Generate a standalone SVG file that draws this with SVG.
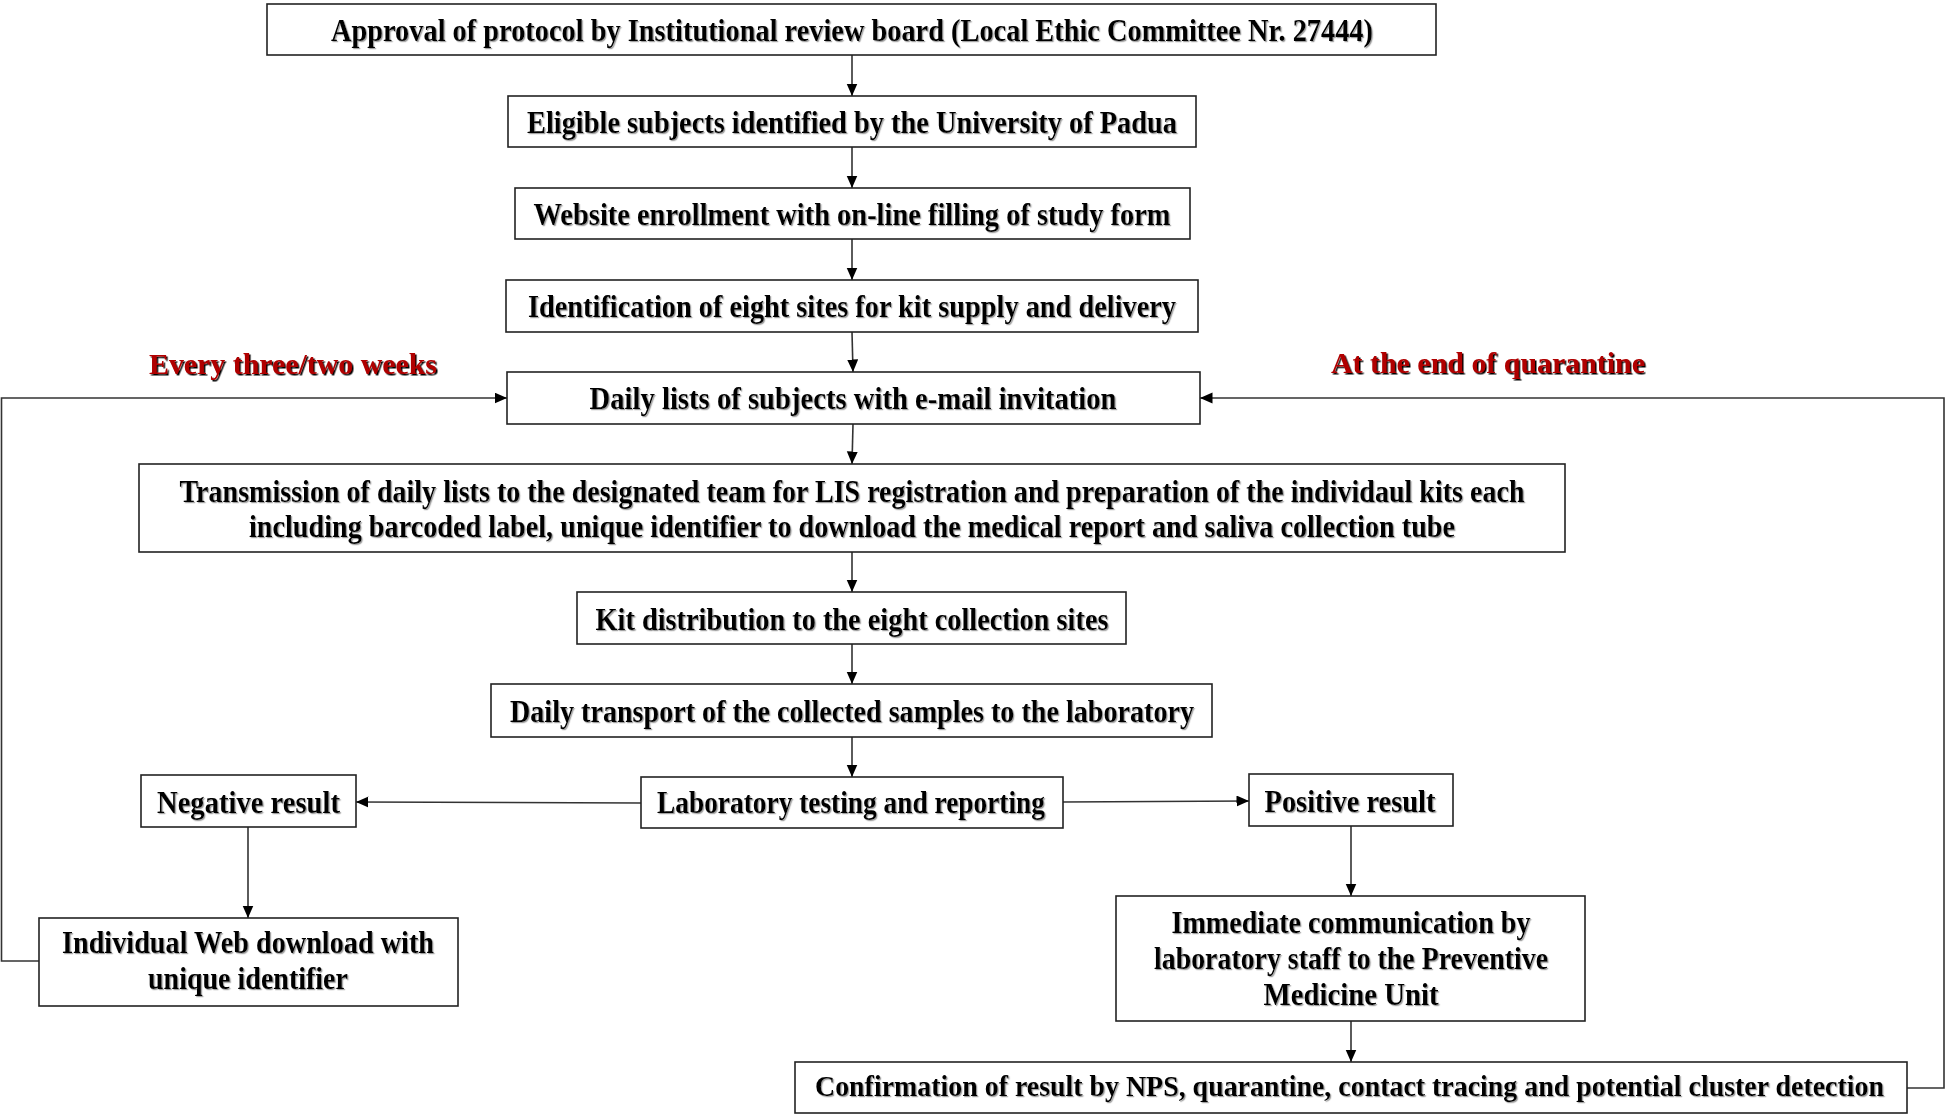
<svg xmlns="http://www.w3.org/2000/svg" width="1950" height="1116" viewBox="0 0 1950 1116">
<defs>
<style>
.box{fill:#fff;stroke:#222;stroke-width:1.6}
.t{font-family:"Liberation Serif","Times New Roman",serif;font-weight:bold;font-size:31px;fill:#000;text-anchor:middle;filter:url(#sh)}
.r{font-family:"Liberation Serif","Times New Roman",serif;font-weight:bold;font-size:30px;fill:#b00000;text-anchor:middle;filter:url(#shr)}
.c{fill:none;stroke:#333;stroke-width:1.6}
</style>
<filter id="sh" x="-2%" y="-5%" width="104%" height="112%">
<feDropShadow dx="1.2" dy="1.2" stdDeviation="0.4" flood-color="#888" flood-opacity="0.8"/>
</filter>
<filter id="shr" x="-2%" y="-5%" width="104%" height="112%">
<feDropShadow dx="1.5" dy="1.5" stdDeviation="0.3" flood-color="#000" flood-opacity="1"/>
</filter>
<marker id="ah" markerUnits="userSpaceOnUse" markerWidth="13" markerHeight="12" refX="12.5" refY="5.5" orient="auto">
<path d="M0,0 L12.5,5.5 L0,11 z" fill="#000"/>
</marker>
</defs>
<rect width="1950" height="1116" fill="#fff"/>

<g id="connectors">
<line class="c" x1="852" y1="55" x2="852" y2="96" marker-end="url(#ah)"/>
<line class="c" x1="852" y1="147" x2="852" y2="188" marker-end="url(#ah)"/>
<line class="c" x1="852" y1="239" x2="852" y2="280" marker-end="url(#ah)"/>
<line class="c" x1="852" y1="332" x2="853" y2="372" marker-end="url(#ah)"/>
<line class="c" x1="853" y1="424" x2="852" y2="464" marker-end="url(#ah)"/>
<line class="c" x1="852" y1="552" x2="852" y2="592" marker-end="url(#ah)"/>
<line class="c" x1="852" y1="644" x2="852" y2="684" marker-end="url(#ah)"/>
<line class="c" x1="852" y1="737" x2="852" y2="777" marker-end="url(#ah)"/>
<line class="c" x1="641" y1="803" x2="356" y2="802" marker-end="url(#ah)"/>
<line class="c" x1="1063" y1="802" x2="1249" y2="801" marker-end="url(#ah)"/>
<line class="c" x1="248" y1="827" x2="248" y2="918" marker-end="url(#ah)"/>
<line class="c" x1="1351" y1="826" x2="1351" y2="896" marker-end="url(#ah)"/>
<line class="c" x1="1351" y1="1021" x2="1351" y2="1062" marker-end="url(#ah)"/>
<polyline class="c" points="39,961 1.5,961 1.5,398 507,398" marker-end="url(#ah)"/>
<polyline class="c" points="1907,1088 1944,1088 1944,398 1200,398" marker-end="url(#ah)"/>
</g>

<g id="label-left"><text class="r" x="293" y="374" textLength="288" lengthAdjust="spacingAndGlyphs">Every three/two weeks</text></g>
<g id="label-right"><text class="r" x="1488" y="373" textLength="314" lengthAdjust="spacingAndGlyphs">At the end of quarantine</text></g>

<g id="n1"><rect class="box" x="267" y="4" width="1169" height="51"/>
<text class="t" x="852" y="40.5" textLength="1042" lengthAdjust="spacingAndGlyphs">Approval of protocol by Institutional review board (Local Ethic Committee Nr. 27444)</text></g>

<g id="n2"><rect class="box" x="508" y="96" width="688" height="51"/>
<text class="t" x="852" y="132.5" textLength="650" lengthAdjust="spacingAndGlyphs">Eligible subjects identified by the University of Padua</text></g>

<g id="n3"><rect class="box" x="515" y="188" width="675" height="51"/>
<text class="t" x="852" y="225" textLength="637" lengthAdjust="spacingAndGlyphs">Website enrollment with on-line filling of study form</text></g>

<g id="n4"><rect class="box" x="506" y="280" width="692" height="52"/>
<text class="t" x="852" y="317" textLength="648" lengthAdjust="spacingAndGlyphs">Identification of eight sites for kit supply and delivery</text></g>

<g id="n5"><rect class="box" x="507" y="372" width="693" height="52"/>
<text class="t" x="853" y="409" textLength="527" lengthAdjust="spacingAndGlyphs">Daily lists of subjects with e-mail invitation</text></g>

<g id="n6"><rect class="box" x="139" y="464" width="1426" height="88"/>
<text class="t" x="852" y="502" textLength="1345" lengthAdjust="spacingAndGlyphs">Transmission of daily lists to the designated team for LIS registration and preparation of the individaul kits each</text>
<text class="t" x="852" y="537" textLength="1206" lengthAdjust="spacingAndGlyphs">including barcoded label, unique identifier to download the medical report and saliva collection tube</text></g>

<g id="n7"><rect class="box" x="577" y="592" width="549" height="52"/>
<text class="t" x="852" y="629.5" textLength="513" lengthAdjust="spacingAndGlyphs">Kit distribution to the eight collection sites</text></g>

<g id="n8"><rect class="box" x="491" y="684" width="721" height="53"/>
<text class="t" x="852" y="721.5" textLength="684" lengthAdjust="spacingAndGlyphs">Daily transport of the collected samples to the laboratory</text></g>

<g id="n9"><rect class="box" x="641" y="777" width="422" height="51"/>
<text class="t" x="851" y="813" textLength="388" lengthAdjust="spacingAndGlyphs">Laboratory testing and reporting</text></g>

<g id="n10"><rect class="box" x="141" y="775" width="215" height="52"/>
<text class="t" x="248.5" y="812.5" textLength="183" lengthAdjust="spacingAndGlyphs">Negative result</text></g>

<g id="n11"><rect class="box" x="1249" y="774" width="204" height="52"/>
<text class="t" x="1350" y="811.5" textLength="171" lengthAdjust="spacingAndGlyphs">Positive result</text></g>

<g id="n12"><rect class="box" x="39" y="918" width="419" height="88"/>
<text class="t" x="248" y="953" textLength="372" lengthAdjust="spacingAndGlyphs">Individual Web download with</text>
<text class="t" x="248" y="989" textLength="200" lengthAdjust="spacingAndGlyphs">unique identifier</text></g>

<g id="n13"><rect class="box" x="1116" y="896" width="469" height="125"/>
<text class="t" x="1351" y="933" textLength="359" lengthAdjust="spacingAndGlyphs">Immediate communication by</text>
<text class="t" x="1351" y="968.5" textLength="394" lengthAdjust="spacingAndGlyphs">laboratory staff to the Preventive</text>
<text class="t" x="1351" y="1004.5" textLength="175" lengthAdjust="spacingAndGlyphs">Medicine Unit</text></g>

<g id="n14"><rect class="box" x="795" y="1062" width="1112" height="51"/>
<text class="t" x="1349.5" y="1096" style="font-size:30px" textLength="1069" lengthAdjust="spacingAndGlyphs">Confirmation of result by NPS, quarantine, contact tracing and potential cluster detection</text></g>
</svg>
